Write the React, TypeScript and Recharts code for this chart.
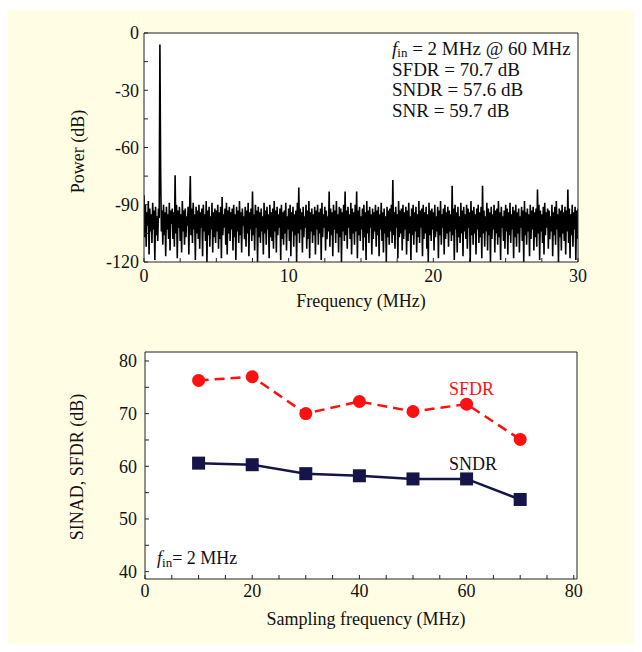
import React from 'react';
import { LineChart, Line, XAxis, YAxis, CartesianGrid, Customized } from 'recharts';

const FONT = '"Liberation Serif", "Times New Roman", serif';
const BG = '#FFFEE4';
const FRAME = '#222';

// ---- Top panel: output spectrum (0.05 MHz bins) ----
const spectrumStepMHz = 0.05;
const spectrumPower: number[] = [
  -85, -107, -90, -112, -94, -101, -88, -116, -92, -104, -95, -110, -89, -103, -93, -119, -91, -106, -96, -109,
  -92, -97, -6, -72, -104, -93, -111, -90, -106, -94, -117, -91, -103, -95, -108, -89, -114, -93, -100, -92,
  -108, -94, -112, -74.5, -105, -90, -118, -93, -102, -91, -109, -95, -115, -88, -104, -93, -111, -92, -107, -96,
  -101, -91, -116, -94, -75, -106, -92, -110, -89, -103, -95, -119, -91, -105, -93, -108, -90, -113, -94, -102,
  -92, -117, -90, -104, -95, -109, -88, -120, -93, -106, -91, -112, -96, -103, -89, -115, -94, -107, -92, -110,
  -93, -104, -90, -113, -94, -108, -91, -118, -86, -106, -95, -102, -92, -111, -89, -116, -93, -105, -91, -109,
  -94, -103, -92, -114, -90, -107, -95, -119, -91, -104, -93, -110, -88, -106, -94, -115, -92, -101, -96, -108,
  -91, -112, -93, -105, -89, -117, -94, -103, -92, -109, -83, -106, -95, -114, -90, -102, -93, -120, -91, -107,
  -94, -110, -92, -104, -96, -116, -89, -105, -93, -111, -91, -103, -95, -118, -90, -107, -94, -109, -92, -113,
  -88, -104, -93, -115, -91, -106, -95, -102, -92, -119, -90, -108, -94, -111, -93, -105, -89, -114, -96, -103,
  -92, -109, -90, -117, -94, -104, -91, -112, -95, -106, -93, -120, -89, -105, -81, -110, -92, -103, -94, -115,
  -91, -107, -96, -102, -90, -113, -93, -108, -88, -118, -94, -104, -92, -110, -95, -106, -91, -116, -93, -103,
  -90, -111, -94, -105, -92, -119, -89, -107, -95, -102, -91, -114, -93, -108, -96, -104, -83, -112, -92, -106,
  -94, -117, -90, -103, -93, -110, -88, -105, -95, -115, -91, -107, -92, -120, -94, -104, -90, -109, -83, -106,
  -93, -113, -91, -102, -95, -108, -89, -116, -92, -105, -94, -111, -90, -104, -83, -118, -93, -106, -91, -109,
  -96, -103, -92, -114, -90, -107, -94, -119, -88, -105, -93, -110, -91, -102, -95, -116, -92, -108, -94, -104,
  -90, -112, -93, -106, -91, -117, -95, -103, -89, -109, -94, -115, -92, -105, -96, -120, -91, -107, -93, -111,
  -92, -104, -90, -110, -77, -106, -94, -113, -91, -102, -95, -118, -88, -107, -93, -105, -92, -114, -90, -108,
  -94, -103, -91, -116, -93, -109, -89, -105, -96, -119, -92, -106, -90, -111, -94, -104, -91, -115, -95, -107,
  -88, -110, -93, -102, -92, -117, -90, -108, -94, -105, -91, -113, -95, -120, -89, -106, -93, -109, -92, -103,
  -94, -114, -90, -107, -96, -104, -91, -118, -93, -106, -88, -111, -95, -102, -92, -116, -90, -108, -94, -105,
  -91, -112, -93, -104, -95, -109, -80, -106, -92, -119, -90, -103, -94, -115, -91, -107, -96, -110, -89, -105,
  -93, -117, -91, -104, -95, -108, -90, -113, -92, -102, -94, -120, -88, -106, -93, -111, -91, -105, -95, -116,
  -92, -103, -90, -110, -94, -107, -91, -118, -80, -105, -93, -112, -96, -104, -89, -114, -92, -106, -94, -120,
  -91, -108, -95, -103, -90, -115, -93, -105, -92, -111, -88, -107, -94, -119, -91, -102, -96, -109, -93, -113,
  -90, -104, -92, -116, -94, -106, -89, -110, -95, -103, -91, -118, -93, -107, -90, -112, -94, -105, -92, -115,
  -96, -102, -91, -109, -93, -120, -88, -106, -94, -111, -92, -104, -95, -117, -90, -108, -93, -103, -91, -114,
  -94, -107, -92, -112, -82, -105, -90, -119, -93, -104, -95, -110, -91, -116, -89, -106, -94, -102, -92, -113,
  -93, -108, -96, -104, -90, -117, -94, -106, -91, -111, -88, -103, -95, -120, -92, -107, -93, -114, -90, -105,
  -94, -109, -91, -116, -93, -104, -82, -110, -92, -118, -95, -106, -90, -112, -94, -103, -91, -119, -93, -108,
  -92,
];
const spectrumTicksX = [0, 2.5, 5, 7.5, 10, 12.5, 15, 17.5, 20, 22.5, 25, 27.5, 30];
const spectrumLabelsX = [0, 10, 20, 30];
const spectrumTicksY = [-120, -105, -90, -75, -60, -45, -30, -15, 0];
const spectrumLabelsY = [-120, -90, -60, -30, 0];
const spectrumNotes = ['= 2 MHz @ 60 MHz', 'SFDR = 70.7 dB', 'SNDR = 57.6 dB', 'SNR = 59.7 dB'];

// ---- Bottom panel: performance vs sampling frequency ----
const samplingFreq = [10, 20, 30, 40, 50, 60, 70];
const sfdrValues = [76.3, 77.0, 70.0, 72.3, 70.4, 71.8, 65.1];
const sndrValues = [60.6, 60.3, 58.6, 58.2, 57.6, 57.6, 53.7];
const perfTicksX = [0, 5, 10, 15, 20, 25, 30, 35, 40, 45, 50, 55, 60, 65, 70, 75, 80];
const perfLabelsX = [0, 20, 40, 60, 80];
const perfTicksY = [40, 45, 50, 55, 60, 65, 70, 75, 80];
const perfLabelsY = [40, 50, 60, 70, 80];

const spectrumData = spectrumPower.map((p, i) => ({ f: +(i * spectrumStepMHz).toFixed(3), p }));
const perfData = samplingFreq.map((fs, i) => ({ fs, sfdr: sfdrValues[i], sndr: sndrValues[i] }));

const tickStyle = { fill: '#111', fontSize: 18, fontFamily: FONT };
const fmt = (labels: number[]) => (v: number) => (labels.includes(v) ? String(v) : '');

const TopNotes = () => (
  <g fontFamily={FONT} fill="#111">
    <text x={69.5} y={143.5} fontSize={18} textAnchor="middle" dominantBaseline="central" transform="rotate(-90 69.5 143.5)">
      Power (dB)
    </text>
    <text x={353} y={293} fontSize={18} textAnchor="middle" dominantBaseline="central">
      Frequency (MHz)
    </text>
    <text x={384} y={40} fontSize={19} dominantBaseline="central">
      <tspan fontStyle="italic">f</tspan>
      <tspan fontSize={13} dy={4}>in</tspan>
      <tspan dy={-4}> {spectrumNotes[0]}</tspan>
    </text>
    <text x={384} y={61} fontSize={19} dominantBaseline="central">{spectrumNotes[1]}</text>
    <text x={384} y={81} fontSize={19} dominantBaseline="central">{spectrumNotes[2]}</text>
    <text x={384} y={102} fontSize={19} dominantBaseline="central">{spectrumNotes[3]}</text>
  </g>
);

const BottomNotes = () => (
  <g fontFamily={FONT} fill="#111">
    <text x={69} y={147} fontSize={18} textAnchor="middle" dominantBaseline="central" transform="rotate(-90 69 147)">
      SINAD, SFDR (dB)
    </text>
    <text x={358} y={299} fontSize={18} textAnchor="middle" dominantBaseline="central">
      Sampling frequency (MHz)
    </text>
    <text x={441} y={69} fontSize={18} fill="#FF1010" dominantBaseline="central">SFDR</text>
    <text x={441} y={144} fontSize={18} dominantBaseline="central">SNDR</text>
    <text x={149} y={238} fontSize={18} dominantBaseline="central">
      <tspan fontStyle="italic">f</tspan>
      <tspan fontSize={13} dy={4}>in</tspan>
      <tspan dy={-4}>= 2 MHz</tspan>
    </text>
  </g>
);

const SquareDot = (props: any) => {
  const { cx, cy, index } = props;
  if (cx == null || cy == null) return <g key={`sq-${index}`} />;
  return <rect key={`sq-${index}`} x={cx - 6.5} y={cy - 6.5} width={13} height={13} fill="#15154A" />;
};

export default function App() {
  return (
    <div style={{ position: 'relative', width: 634, height: 636, overflow: 'hidden' }}>
      <div style={{ position: 'absolute', left: 0, top: 2, width: 634, height: 634, background: BG }} />
      <div style={{ position: 'absolute', left: 0, top: 0 }}>
        <LineChart width={634} height={312} data={spectrumData} margin={{ top: 20, right: 54, bottom: 28, left: 76 }}>
          <CartesianGrid horizontal={false} vertical={false} fill="#fff" />
          <XAxis dataKey="f" type="number" domain={[0, 30]} ticks={spectrumTicksX} tickFormatter={fmt(spectrumLabelsX)}
            allowDataOverflow height={30} tickSize={-4} tickMargin={11} tick={tickStyle}
            axisLine={{ stroke: FRAME }} tickLine={{ stroke: FRAME }} interval={0} />
          <XAxis xAxisId="top" orientation="top" dataKey="f" type="number" domain={[0, 30]} ticks={spectrumTicksX}
            allowDataOverflow height={5} tickSize={-4} tick={false} axisLine={{ stroke: FRAME }} tickLine={{ stroke: FRAME }} interval={0} />
          <YAxis type="number" domain={[-120, 0]} ticks={spectrumTicksY} tickFormatter={fmt(spectrumLabelsY)}
            allowDataOverflow width={60} tickSize={-4} tickMargin={9} tick={tickStyle}
            axisLine={{ stroke: FRAME }} tickLine={{ stroke: FRAME }} interval={0} />
          <YAxis yAxisId="right" orientation="right" type="number" domain={[-120, 0]} ticks={spectrumTicksY}
            allowDataOverflow width={10} tickSize={-4} tick={false} axisLine={{ stroke: FRAME }} tickLine={{ stroke: FRAME }} interval={0} />
          <Line dataKey="p" type="linear" stroke="#000" strokeWidth={1.6} strokeLinejoin="miter" dot={false} isAnimationActive={false} />
          <Customized component={TopNotes} />
        </LineChart>
      </div>
      <div style={{ position: 'absolute', left: 0, top: 312 }}>
        <LineChart width={634} height={312} data={perfData} margin={{ top: 27, right: 55, bottom: 23, left: 77 }}>
          <CartesianGrid horizontal={false} vertical={false} fill="#fff" />
          <XAxis dataKey="fs" type="number" domain={[0, 80.6]} ticks={perfTicksX} tickFormatter={fmt(perfLabelsX)}
            allowDataOverflow height={30} tickSize={-4} tickMargin={9} tick={tickStyle}
            axisLine={{ stroke: FRAME }} tickLine={{ stroke: FRAME }} interval={0} />
          <XAxis xAxisId="top" orientation="top" dataKey="fs" type="number" domain={[0, 80.6]} ticks={perfTicksX}
            allowDataOverflow height={5} tickSize={-4} tick={false} axisLine={{ stroke: FRAME }} tickLine={{ stroke: FRAME }} interval={0} />
          <YAxis type="number" domain={[38.6, 81.7]} ticks={perfTicksY} tickFormatter={fmt(perfLabelsY)}
            allowDataOverflow width={60} tickSize={-4} tickMargin={12} tick={tickStyle}
            axisLine={{ stroke: FRAME }} tickLine={{ stroke: FRAME }} interval={0} />
          <YAxis yAxisId="right" orientation="right" type="number" domain={[38.6, 81.7]} ticks={perfTicksY}
            allowDataOverflow width={10} tickSize={-4} tick={false} axisLine={{ stroke: FRAME }} tickLine={{ stroke: FRAME }} interval={0} />
          <Line dataKey="sfdr" type="linear" stroke="#FF1010" strokeWidth={2.5} strokeDasharray="10 6"
            dot={{ r: 6.5, fill: '#FF1010', stroke: 'none' }} isAnimationActive={false} />
          <Line dataKey="sndr" type="linear" stroke="#15154A" strokeWidth={2.5} dot={SquareDot} isAnimationActive={false} />
          <Customized component={BottomNotes} />
        </LineChart>
      </div>
    </div>
  );
}
